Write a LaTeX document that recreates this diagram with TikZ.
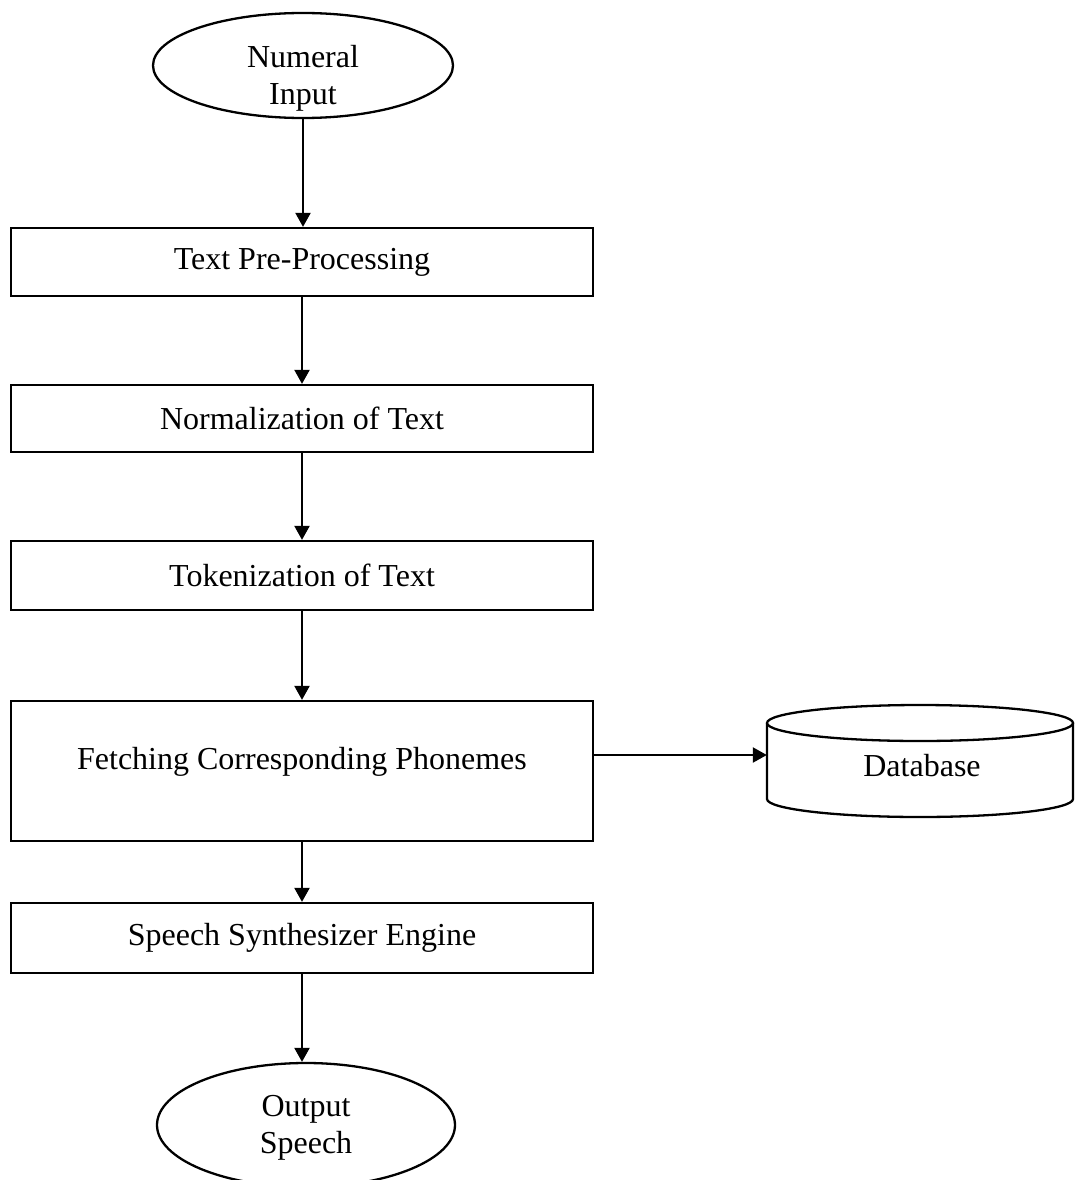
\documentclass[tikz,border=0pt]{standalone}
\usepackage{fontspec}
\setmainfont{Liberation Serif}
\usetikzlibrary{shapes.geometric,arrows.meta}
\begin{document}
\begin{tikzpicture}[x=1pt,y=-1pt,
  every node/.style={font=\fontsize{32}{37}\selectfont, inner sep=0pt},
  box/.style={draw, line width=2.3pt, rectangle, minimum width=582pt},
  term/.style={draw, line width=2.3pt, ellipse},
  conn/.style={line width=2.3pt, -{Triangle[length=14pt,width=15pt]}}]
\clip (0,0) rectangle (1075,1180);
\node[term, minimum width=300pt, minimum height=105pt] (in) at (303,65.5) {};
\node[align=center] (intext) at (303,78) {Numeral\\Input};
\node[box, minimum height=68pt] (b1) at (302,262) {Text Pre-Processing};
\node[box, minimum height=67pt] (b2) at (302,418.5) {Normalization of Text};
\node[box, minimum height=69pt] (b3) at (302,575.5) {Tokenization of Text};
\node[box, minimum height=140pt] (b4) at (302,771) {};
\node (b4t) at (302,762) {Fetching Corresponding Phonemes};
\node[box, minimum height=70pt] (b5) at (302,938) {Speech Synthesizer Engine};
\node[term, minimum width=298pt, minimum height=124pt] (out) at (306,1125) {};
\node[align=center] (outtext) at (306,1128) {Output\\Speech};
% database cylinder
\node[minimum width=306pt, minimum height=94pt] (db) at (920,755) {};
\node (dbt) at (922,766) {Database};
\draw[line width=2.3pt] (920,723) ellipse [x radius=153pt, y radius=18pt];
\draw[line width=2.3pt] (767,723) -- (767,799) arc[start angle=180, end angle=360, x radius=153pt, y radius=18pt] -- (1073,723);
\coordinate (b4e) at (593,755);
\draw[conn] (in.south) -- (in.south |- b1.north);
\draw[conn] (b1.south) -- (b2.north);
\draw[conn] (b2.south) -- (b3.north);
\draw[conn] (b3.south) -- (b4.north);
\draw[conn] (b4.south) -- (b5.north);
\draw[conn] (b5.south) -- (b5.south |- out.north);
\draw[conn] (b4e) -- (db.west);
\end{tikzpicture}
\end{document}
